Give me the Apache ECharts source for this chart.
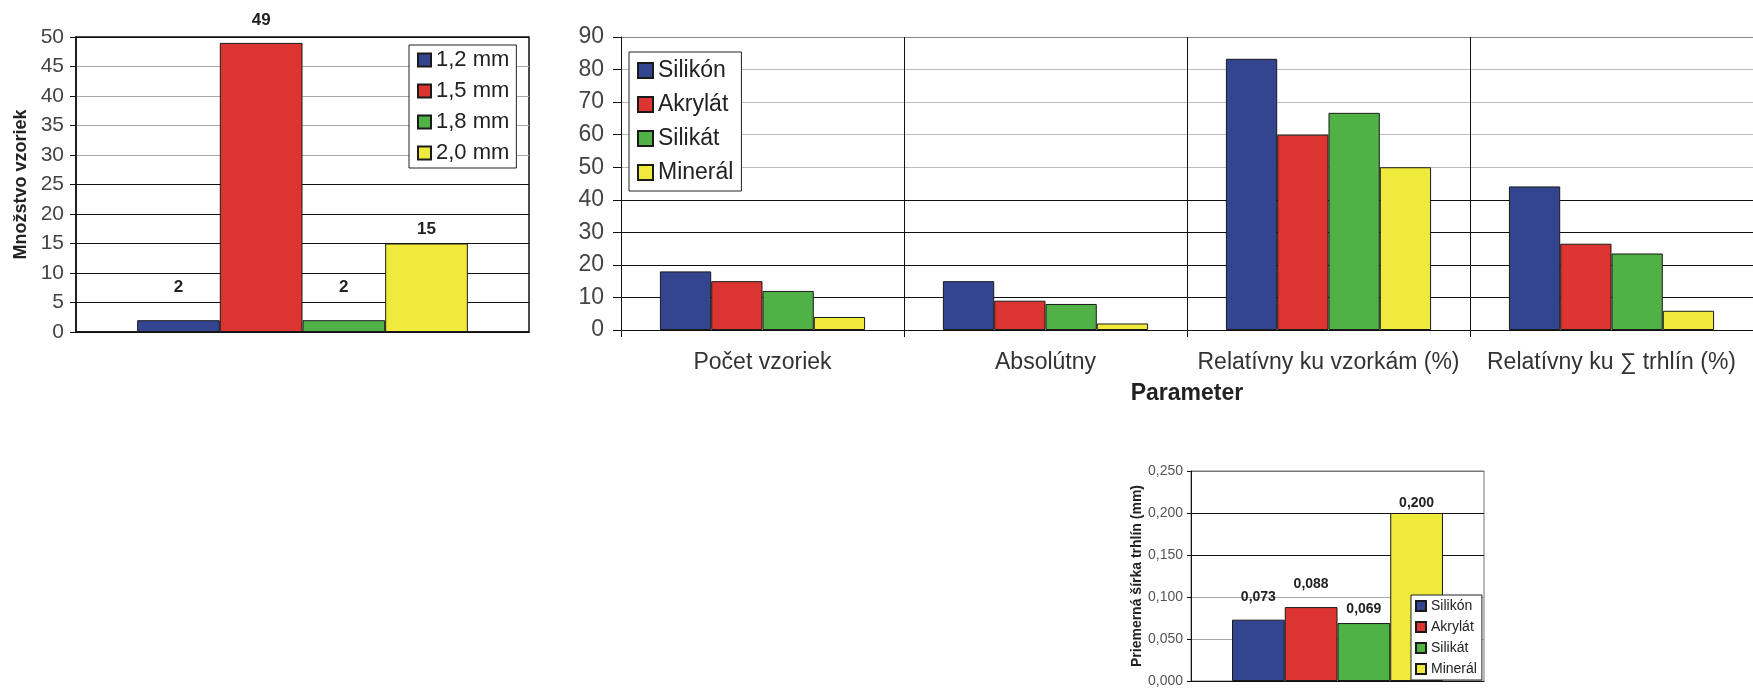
<!DOCTYPE html>
<html>
<head>
<meta charset="utf-8">
<script src="https://cdn.jsdelivr.net/npm/echarts@6/dist/echarts.min.js"></script>
<style>
html,body{margin:0;padding:0;background:#fff;}
#c{width:1753px;height:688px;}
</style>
</head>
<body>
<div id="c"></div>
<script>
// ---- data ----
const sizeCats = [''];
const sizeNames = ['1,2 mm', '1,5 mm', '1,8 mm', '2,0 mm'];
const sizeValues = [2, 49, 2, 15];

const paramCats = ['Počet vzoriek', 'Absolútny', 'Relatívny ku vzorkám (%)', 'Relatívny ku ∑ trhlín (%)'];
const materials = ['Silikón', 'Akrylát', 'Silikát', 'Minerál'];
const silikon = [18, 15, 83.3, 44.1];
const akrylat = [15, 9, 60, 26.5];
const silikat = [12, 8, 66.7, 23.5];
const mineral = [4, 2, 50, 5.9];

const widthCats = [''];
const widthValues = [0.073, 0.088, 0.069, 0.200];

// ---- styling ----
const FONT = 'Liberation Sans, Arial, sans-serif';
const colors = ['#33458f', '#dc3531', '#50b147', '#f0ea3c'];
const border = { borderColor: '#1a1a1a', borderWidth: 1 };
const comma = (v, d) => v.toFixed(d).replace('.', ',');

const chart = echarts.init(document.getElementById('c'));

const series = [];
// chart 1
const dist1 = [24, 14, 24, 6];
sizeNames.forEach((n, i) => {
  series.push({
    type: 'bar', name: n, xAxisIndex: 0, yAxisIndex: 0,
    data: [sizeValues[i]],
    barGap: '0%', barCategoryGap: '27%',
    itemStyle: Object.assign({ color: colors[i] }, border),
    label: { show: true, position: 'top', distance: dist1[i], fontFamily: FONT, fontWeight: 'bold', fontSize: 17, color: '#222' }
  });
});
// chart 2
[silikon, akrylat, silikat, mineral].forEach((arr, i) => {
  series.push({
    type: 'bar', name: materials[i], xAxisIndex: 1, yAxisIndex: 1,
    data: arr,
    barGap: '0%', barCategoryGap: '27.5%',
    itemStyle: Object.assign({ color: colors[i] }, border)
  });
});
// chart 3
const dist3 = [16, 16, 7, 3];
materials.forEach((n, i) => {
  series.push({
    type: 'bar', name: n, xAxisIndex: 2, yAxisIndex: 2,
    data: [widthValues[i]],
    barGap: '0%', barCategoryGap: '28%',
    itemStyle: Object.assign({ color: colors[i] }, border),
    label: { show: true, position: 'top', distance: dist3[i], fontFamily: FONT, fontWeight: 'bold', fontSize: 14, color: '#222',
      formatter: p => comma(p.value, 3) }
  });
});

const legendText = (size) => ({ fontFamily: FONT, fontSize: size, color: '#222' });

const option = {
  animation: false,
  backgroundColor: '#fff',
  grid: [
    { left: 76, top: 37, width: 453, height: 295, show: true, borderColor: '#111', borderWidth: 1.5 },
    { left: 621, top: 37, width: 1152, height: 293 },
    { left: 1191, top: 471, width: 293, height: 214, show: true, borderColor: '#777', borderWidth: 1 }
  ],
  legend: [
    { data: sizeNames, left: 409, top: 45, orient: 'vertical', itemWidth: 13, itemHeight: 13, itemGap: 9, itemTextGap: 5,
      padding: [4, 7, 4, 8], backgroundColor: '#fff', borderColor: '#222', borderWidth: 1, selectedMode: false,
      icon: 'rect', textStyle: legendText(22) },
    { data: materials, left: 629, top: 52, orient: 'vertical', itemWidth: 15, itemHeight: 15, itemGap: 11, itemTextGap: 5,
      padding: [7, 8, 7, 8], backgroundColor: '#fff', borderColor: '#222', borderWidth: 1, selectedMode: false,
      icon: 'rect', textStyle: legendText(23) },
    { data: materials, left: 1411, top: 595, orient: 'vertical', itemWidth: 10, itemHeight: 10, itemGap: 7, itemTextGap: 3,
      padding: [4, 5, 4, 4], backgroundColor: '#fff', borderColor: '#222', borderWidth: 1, selectedMode: false,
      icon: 'rect', textStyle: legendText(14) }
  ],
  xAxis: [
    { type: 'category', gridIndex: 0, data: sizeCats,
      axisLine: { lineStyle: { color: '#111', width: 1.5 } }, axisTick: { show: false }, axisLabel: { show: false } },
    { type: 'category', gridIndex: 1, data: paramCats,
      axisLine: { lineStyle: { color: '#111' } },
      axisTick: { show: true, interval: 0, length: 7, lineStyle: { color: '#111' } },
      splitLine: { show: true, interval: 0, lineStyle: { color: '#111' } },
      axisLabel: { interval: 0, hideOverlap: false, fontFamily: FONT, fontSize: 23, color: '#333', margin: 21 },
      name: 'Parameter', nameLocation: 'middle', nameGap: 52,
      nameTextStyle: { fontFamily: FONT, fontSize: 23, fontWeight: 'bold', color: '#222' } },
    { type: 'category', gridIndex: 2, data: widthCats,
      axisLine: { lineStyle: { color: '#111' } }, axisTick: { show: false }, axisLabel: { show: false } }
  ],
  yAxis: [
    { type: 'value', gridIndex: 0, min: 0, max: 50, interval: 5,
      axisLine: { show: true, lineStyle: { color: '#111', width: 1.5 } },
      axisTick: { show: true, length: 6, lineStyle: { color: '#111' } },
      axisLabel: { fontFamily: FONT, fontSize: 21, color: '#444', margin: 12 },
      splitLine: { show: true, lineStyle: { color: ['#111', '#111', '#111', '#111', '#111', '#111', '#aaa', '#aaa', '#aaa', '#aaa', '#111'] } },
      name: 'Množstvo vzoriek', nameLocation: 'middle', nameGap: 46,
      nameTextStyle: { fontFamily: FONT, fontSize: 18, fontWeight: 'bold', color: '#222' } },
    { type: 'value', gridIndex: 1, min: 0, max: 90, interval: 10,
      axisLine: { show: true, lineStyle: { color: '#111' } },
      axisTick: { show: true, length: 8, lineStyle: { color: '#111' } },
      axisLabel: { fontFamily: FONT, fontSize: 23, color: '#444', margin: 17 },
      splitLine: { show: true, lineStyle: { color: ['#444', '#111', '#111', '#111', '#111', '#bbb', '#bbb', '#bbb', '#bbb', '#888'] } } },
    { type: 'value', gridIndex: 2, min: 0, max: 0.25, interval: 0.05,
      axisLine: { show: true, lineStyle: { color: '#111' } },
      axisTick: { show: true, length: 4, lineStyle: { color: '#111' } },
      axisLabel: { fontFamily: FONT, fontSize: 14, color: '#555', margin: 8, formatter: v => comma(v, 3) },
      splitLine: { show: true, lineStyle: { color: ['#111', '#aaa', '#aaa', '#111', '#111', '#777'] } },
      name: 'Priemerná šírka trhlín (mm)', nameLocation: 'middle', nameGap: 46,
      nameTextStyle: { fontFamily: FONT, fontSize: 14, fontWeight: 'bold', color: '#222' } }
  ],
  series: series
};
chart.setOption(option);
</script>
</body>
</html>
